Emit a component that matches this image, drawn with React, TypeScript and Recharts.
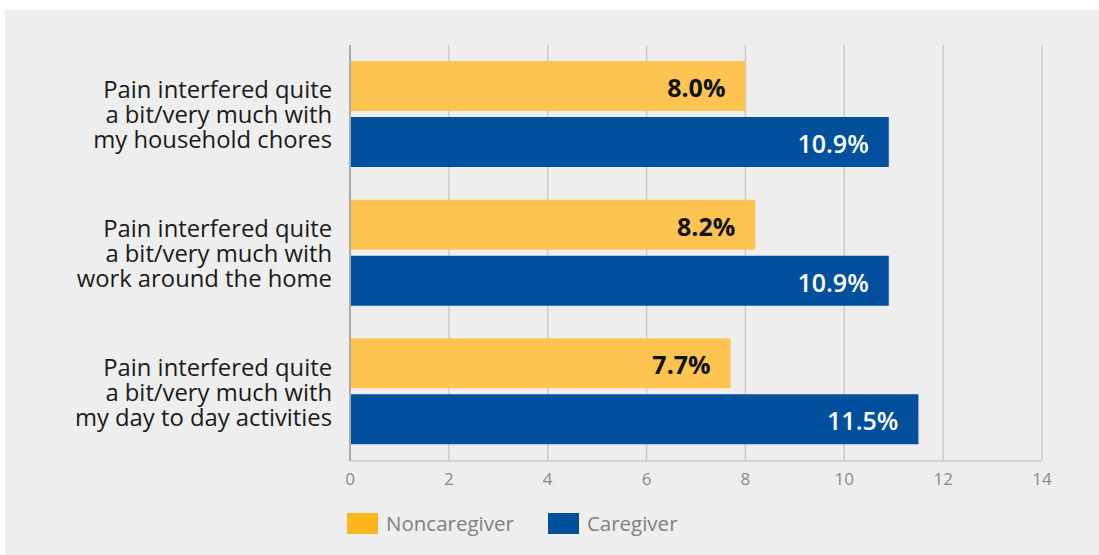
import React from "react";
import { Bar, BarChart, CartesianGrid, LabelList, XAxis, YAxis } from "recharts";

const categories = [
  "Pain interfered quite\na bit/very much with\nmy household chores",
  "Pain interfered quite\na bit/very much with\nwork around the home",
  "Pain interfered quite\na bit/very much with\nmy day to day activities",
];
const noncaregiver = [8.0, 8.2, 7.7];
const caregiver = [10.9, 10.9, 11.5];
const xTicks = [0, 2, 4, 6, 8, 10, 12, 14];

const data = categories.map((name, i) => ({
  name,
  noncaregiver: noncaregiver[i],
  caregiver: caregiver[i],
}));

const FONT = "'Open Sans', 'Noto Sans', sans-serif";
const YELLOW = "#fec452";
const YELLOW_KEY = "#fbb61e";
const BLUE = "#00509d";

function CategoryTick(props: any) {
  const { x, y, payload } = props;
  const lines = String(payload.value).split("\n");
  const lh = 25;
  const start = y - ((lines.length - 1) * lh) / 2;
  return (
    <text x={x} y={start} textAnchor="end" fontFamily={FONT} fontSize={23.8} fill="#1a1a1a">
      {lines.map((l, i) => (
        <tspan key={i} x={x} y={start + i * lh} dominantBaseline="central">
          {l}
        </tspan>
      ))}
    </text>
  );
}

function valueLabel(color: string, weight: number) {
  return (props: any) => {
    const { x, y, width, height, value } = props;
    return (
      <text
        x={x + width - 20}
        y={y + height / 2 + 1}
        textAnchor="end"
        dominantBaseline="central"
        fontFamily={FONT}
        fontSize={25}
        fontWeight={weight}
        fill={color}
      >
        {Number(value).toFixed(1)}%
      </text>
    );
  };
}

function ChartLegend() {
  const items = [
    { label: "Noncaregiver", color: YELLOW_KEY },
    { label: "Caregiver", color: BLUE },
  ];
  return (
    <div style={{ position: "absolute", left: 342, top: 503, display: "flex", alignItems: "center", fontFamily: FONT }}>
      {items.map((it) => (
        <div key={it.label} style={{ display: "flex", alignItems: "center", marginRight: 34 }}>
          <div style={{ width: 31, height: 21, background: it.color, marginRight: 8 }} />
          <span style={{ fontSize: 20.5, color: "#808080", lineHeight: "21px" }}>{it.label}</span>
        </div>
      ))}
    </div>
  );
}

export default function App() {
  return (
    <div style={{ position: "absolute", left: 5, top: 10, width: 1094, height: 545, background: "#eeeeee" }}>
      <BarChart
        width={1094}
        height={545}
        data={data}
        layout="vertical"
        margin={{ top: 35, right: 57, bottom: 64, left: 0 }}
        barSize={50}
        barGap={6}
      >
        <CartesianGrid horizontal={false} stroke="#cccccc" strokeWidth={1.5} />
        <XAxis
          type="number"
          domain={[0, 14]}
          ticks={xTicks}
          tickLine={false}
          tickSize={0}
          axisLine={{ stroke: "#cccccc", strokeWidth: 1.5 }}
          tick={{ fill: "#8a8a8a", fontSize: 17, fontFamily: FONT }}
          tickMargin={12}
        />
        <YAxis
          type="category"
          dataKey="name"
          width={345}
          tickLine={false}
          tickSize={0}
          tickMargin={18}
          axisLine={{ stroke: "#aaaaaa", strokeWidth: 2 }}
          tick={<CategoryTick />}
        />
        <Bar dataKey="noncaregiver" name="Noncaregiver" fill={YELLOW} isAnimationActive={false}>
          <LabelList dataKey="noncaregiver" content={valueLabel("#111111", 700)} />
        </Bar>
        <Bar dataKey="caregiver" name="Caregiver" fill={BLUE} isAnimationActive={false}>
          <LabelList dataKey="caregiver" content={valueLabel("#ffffff", 600)} />
        </Bar>
      </BarChart>
      <ChartLegend />
    </div>
  );
}
